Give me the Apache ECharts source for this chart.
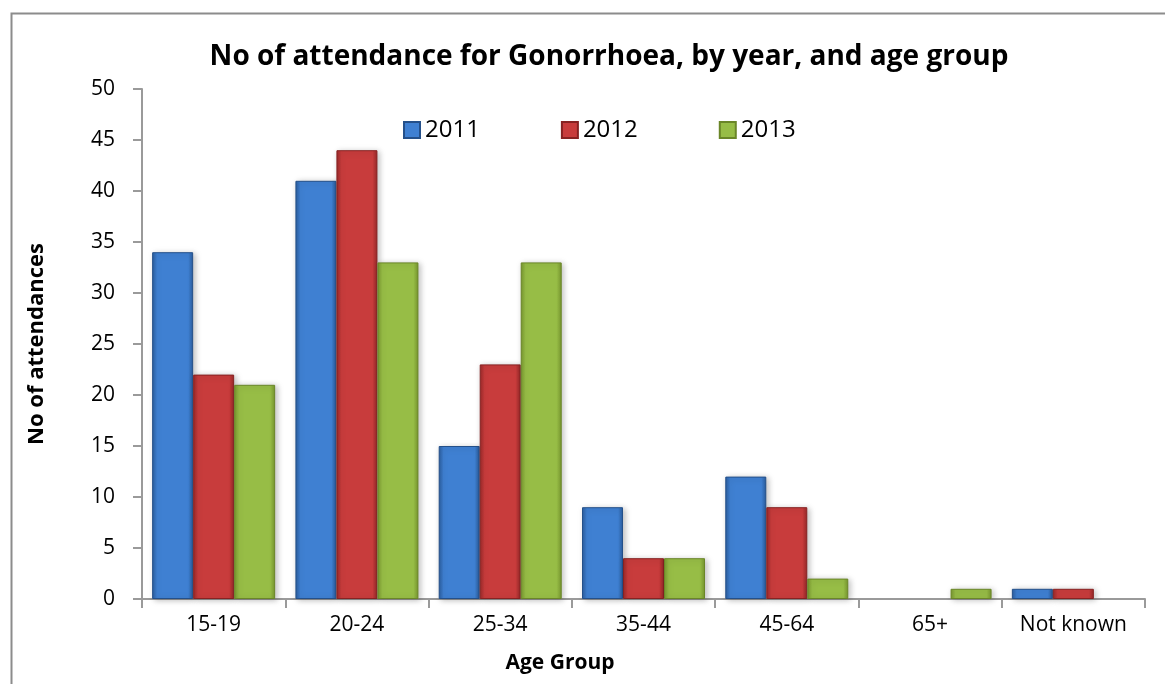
<!DOCTYPE html>
<html>
<head>
<meta charset="utf-8">
<script src="https://cdn.jsdelivr.net/npm/echarts@6/dist/echarts.min.js"></script>
<style>html,body{margin:0;padding:0;background:#fff;}#c{width:1165px;height:684px;}</style>
</head>
<body>
<div id="c"></div>
<script>
const categories = ['15-19', '20-24', '25-34', '35-44', '45-64', '65+', 'Not known'];
const seriesNames = ['2011', '2012', '2013'];
const values2011 = [34, 41, 15, 9, 12, 0, 1];
const values2012 = [22, 44, 23, 4, 9, 0, 1];
const values2013 = [21, 33, 33, 4, 2, 1, 0];
const yTicks = [0, 5, 10, 15, 20, 25, 30, 35, 40, 45, 50];

const palettes = [
  {edge: '#2a5c9c', mid: '#3f80d2', border: '#24508a'},
  {edge: '#982828', mid: '#c83c3c', border: '#872222'},
  {edge: '#77962e', mid: '#97bd46', border: '#6a8628'}
];
function grad(p) {
  return new echarts.graphic.LinearGradient(0, 0, 1, 0, [
    {offset: 0, color: p.edge},
    {offset: 0.12, color: p.mid},
    {offset: 0.88, color: p.mid},
    {offset: 1, color: p.edge}
  ]);
}
const allValues = [values2011, values2012, values2013];
const font = '"Open Sans", sans-serif';

const chart = echarts.init(document.getElementById('c'), null, {renderer: 'canvas'});
chart.setOption({
  animation: false,
  graphic: [{
    type: 'rect', left: 9, top: 11, shape: {width: 1200, height: 700},
    style: {fill: 'none', stroke: '#8c8c8c', lineWidth: 2}, z: -1
  }],
  title: [{
    text: 'No of attendance for Gonorrhoea, by year, and age group',
    left: 604, top: 38, textAlign: 'center',
    textStyle: {fontFamily: font, fontWeight: 'bold', fontSize: 28, color: '#000'}
  }, {
    text: 'Age Group',
    left: 555, top: 648, textAlign: 'center',
    textStyle: {fontFamily: font, fontWeight: 'bold', fontSize: 21, color: '#000'}
  }],
  legend: {
    top: 113, left: 398, itemWidth: 16, itemHeight: 16, itemGap: 81,
    icon: 'rect',
    textStyle: {fontFamily: font, fontSize: 24, color: '#000'},
    data: seriesNames
  },
  grid: {left: 142, right: 20, top: 89, bottom: 85},
  xAxis: {
    type: 'category', data: categories,
    axisLine: {lineStyle: {color: '#9a9a9a', width: 2}},
    axisTick: {show: true, length: 9, lineStyle: {color: '#9a9a9a', width: 2}},
    axisLabel: {fontFamily: font, fontSize: 21, color: '#000', margin: 16}
  },
  yAxis: {
    type: 'value', min: 0, max: 50, interval: 5,
    name: 'No of attendances', nameLocation: 'middle', nameGap: 94,
    nameTextStyle: {fontFamily: font, fontWeight: 'bold', fontSize: 22, color: '#000'},
    axisLine: {show: true, lineStyle: {color: '#9a9a9a', width: 2}},
    axisTick: {show: true, length: 9, lineStyle: {color: '#9a9a9a', width: 2}},
    splitLine: {show: false},
    axisLabel: {fontFamily: font, fontSize: 21, color: '#000', margin: 27,
      formatter: v => yTicks.includes(v) ? String(v) : ''}
  },
  series: seriesNames.map((n, i) => ({
    name: n, type: 'bar',
    data: allValues[i].map(v => v === 0 ? {value: 0, itemStyle: {borderWidth: 0, shadowBlur: 0, opacity: 0}} : v),
    barWidth: 41, barGap: '0%',
    itemStyle: {color: grad(palettes[i]), borderColor: palettes[i].border, borderWidth: 1,
      shadowColor: 'rgba(0,0,0,0.25)', shadowBlur: 6, shadowOffsetX: 2, shadowOffsetY: 1}
  }))
});
</script>
</body>
</html>
